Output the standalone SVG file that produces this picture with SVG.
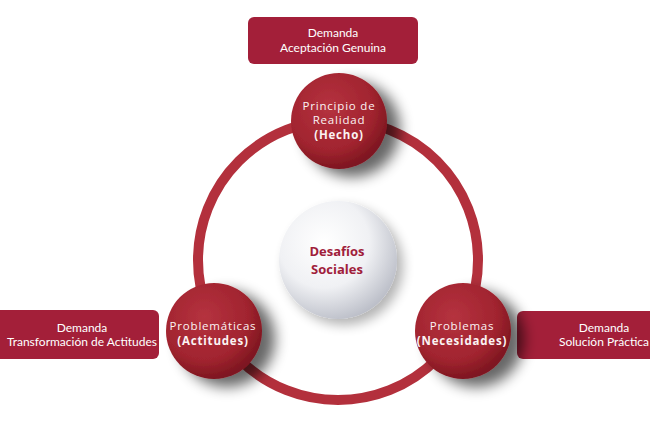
<svg xmlns="http://www.w3.org/2000/svg" width="650" height="433" viewBox="0 0 650 433">
<defs>
<style>
.box{fill:#a31f39}
.bt{font-family:Lato,"Open Sans","Liberation Sans",sans-serif;font-size:12px;fill:#ffffff;text-anchor:middle}
.ct{font-family:"Open Sans","Liberation Sans",sans-serif;font-size:11.5px;fill:#fbf3f3;text-anchor:middle;letter-spacing:0.8px}
.b{font-weight:bold}
.st{font-family:"Open Sans","Liberation Sans",sans-serif;font-size:13px;font-weight:bold;fill:#a0203a;text-anchor:middle}
.red{fill:url(#rg);filter:url(#sh)}
</style>
<radialGradient id="rg" cx="0.4" cy="0.35" r="0.65">
<stop offset="0" stop-color="#b5323f"/>
<stop offset="0.7" stop-color="#a1242f"/>
<stop offset="1" stop-color="#7e1620"/>
</radialGradient>
<radialGradient id="wg" cx="0.38" cy="0.35" r="0.7">
<stop offset="0" stop-color="#ffffff"/>
<stop offset="0.55" stop-color="#f0f1f4"/>
<stop offset="1" stop-color="#b9bcc6"/>
</radialGradient>
<filter id="sh" x="-40%" y="-40%" width="200%" height="200%">
<feGaussianBlur in="SourceAlpha" stdDeviation="7"/>
<feOffset dx="13" dy="8" result="b"/>
<feComponentTransfer><feFuncA type="linear" slope="0.6"/></feComponentTransfer>
<feMerge><feMergeNode/><feMergeNode in="SourceGraphic"/></feMerge>
</filter>
<filter id="sh2" x="-40%" y="-40%" width="200%" height="200%">
<feGaussianBlur in="SourceAlpha" stdDeviation="6"/>
<feOffset dx="6" dy="6" result="b"/>
<feComponentTransfer><feFuncA type="linear" slope="0.3"/></feComponentTransfer>
<feMerge><feMergeNode/><feMergeNode in="SourceGraphic"/></feMerge>
</filter>
</defs>
<rect width="650" height="433" fill="#ffffff"/>
<g id="connectors">
<circle cx="338" cy="260" r="140" fill="none" stroke="#b3303c" stroke-width="10"/>
</g>
<g id="label-top">
<rect class="box" x="248" y="17" width="170" height="47" rx="6"/>
<text class="bt" x="333" y="37">Demanda</text>
<text class="bt" x="333" y="52">Aceptación Genuina</text>
</g>
<g id="label-left">
<rect class="box" x="-8" y="310" width="167" height="49" rx="6"/>
<text class="bt" x="82" y="332">Demanda</text>
<text class="bt" x="82" y="346">Transformación de Actitudes</text>
</g>
<g id="label-right">
<rect class="box" x="517" y="311" width="141" height="48" rx="6"/>
<text class="bt" x="604" y="332">Demanda</text>
<text class="bt" x="604" y="346">Solución Práctica</text>
</g>
<g id="node-center">
<circle cx="338" cy="260" r="59" fill="url(#wg)" filter="url(#sh2)"/>
<text class="st" x="337" y="256">Desafíos</text>
<text class="st" x="337" y="274">Sociales</text>
</g>
<g id="node-top">
<circle class="red" cx="339" cy="121" r="48"/>
<text class="ct" x="339" y="110">Principio de</text>
<text class="ct" x="339" y="124">Realidad</text>
<text class="ct b" x="339" y="139">(Hecho)</text>
</g>
<g id="node-left">
<circle class="red" cx="214" cy="331" r="48"/>
<text class="ct" x="213" y="330">Problemáticas</text>
<text class="ct b" x="213" y="345">(Actitudes)</text>
</g>
<g id="node-right">
<circle class="red" cx="463" cy="331" r="48"/>
<text class="ct" x="462" y="330">Problemas</text>
<text class="ct b" x="462" y="345">(Necesidades)</text>
</g>
</svg>
